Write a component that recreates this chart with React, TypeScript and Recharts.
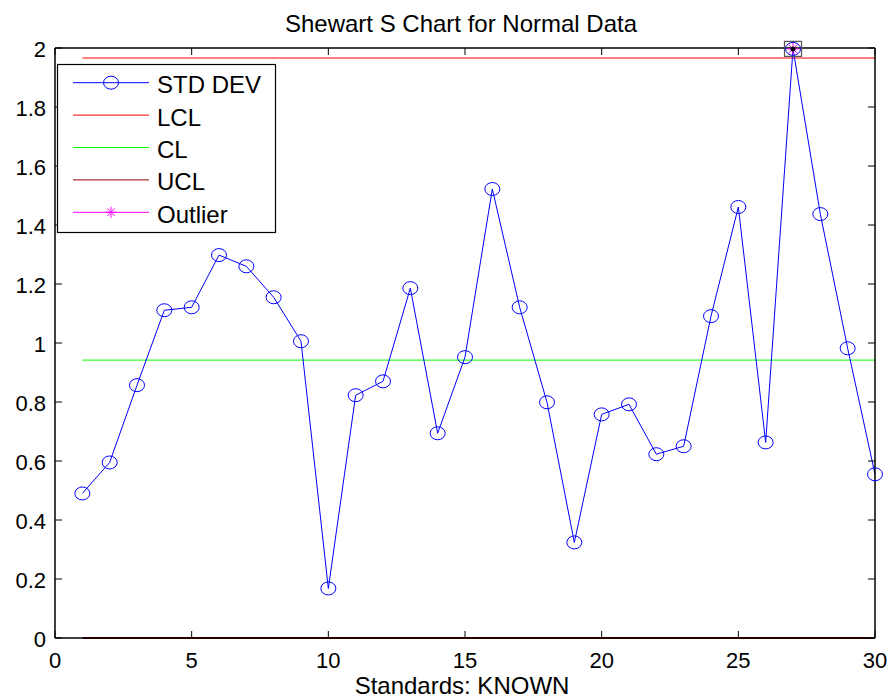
import React from 'react';
import { LineChart, Line, XAxis, YAxis } from 'recharts';

// ---- data ----
const sampleNumbers = [1, 2, 3, 4, 5, 6, 7, 8, 9, 10, 11, 12, 13, 14, 15, 16, 17, 18, 19, 20, 21, 22, 23, 24, 25, 26, 27, 28, 29, 30];
const stdDevValues = [
  0.49, 0.595, 0.857, 1.111, 1.121, 1.298, 1.26, 1.155, 1.006, 0.168,
  0.823, 0.87, 1.186, 0.694, 0.952, 1.522, 1.121, 0.799, 0.324, 0.758,
  0.792, 0.623, 0.65, 1.091, 1.461, 0.663, 1.997, 1.437, 0.982, 0.555,
];
const outlierSamples = [27];
const outlierValues = [1.997];
const lclValue = 1.966;
const clValue = 0.942;
const uclValue = 0;
const xTicks = [0, 5, 10, 15, 20, 25, 30];
const yTicks = [0, 0.2, 0.4, 0.6, 0.8, 1, 1.2, 1.4, 1.6, 1.8, 2];
const legendLabels = ['STD DEV', 'LCL', 'CL', 'UCL', 'Outlier'];
const chartTitle = 'Shewart S Chart for Normal Data';
const xAxisTitle = 'Standards: KNOWN';

// ---- derived tables ----
const stdData = sampleNumbers.map((x, i) => ({ x, y: stdDevValues[i] }));
const outlierData = outlierSamples.map((x, i) => ({ x, y: outlierValues[i] }));
const limitData = [sampleNumbers[0], sampleNumbers[sampleNumbers.length - 1]].map((x) => ({
  x,
  lcl: lclValue,
  cl: clValue,
  ucl: uclValue,
}));

// ---- style ----
const FONT = '"Liberation Sans", Arial, Helvetica, sans-serif';
const BLUE = '#0000ff';
const RED = '#ff0000';
const DARKRED = '#990000';
const GREEN = '#00ff00';
const MAGENTA = '#ff00ff';
const W = 891;
const H = 700;
const MARGIN = { top: 47, right: 15, left: 0, bottom: 0 };
const Y_AXIS_W = 55;
const X_AXIS_H = 62;
const TICK_LEN = 7;

const EllipseDot = (props: any) => {
  const { cx, cy, index } = props;
  if (cx == null || cy == null) return <g key={index} />;
  return <ellipse key={index} cx={cx} cy={cy} rx={7.5} ry={6.5} fill="none" stroke={BLUE} strokeWidth={1} />;
};

const Asterisk = ({ cx, cy, r }: { cx: number; cy: number; r: number }) => (
  <g stroke={MAGENTA} strokeWidth={1}>
    <line x1={cx - r} y1={cy} x2={cx + r} y2={cy} />
    <line x1={cx} y1={cy - r} x2={cx} y2={cy + r} />
    <line x1={cx - r * 0.7} y1={cy - r * 0.7} x2={cx + r * 0.7} y2={cy + r * 0.7} />
    <line x1={cx - r * 0.7} y1={cy + r * 0.7} x2={cx + r * 0.7} y2={cy - r * 0.7} />
  </g>
);

const OutlierDot = (props: any) => {
  const { cx, cy, index } = props;
  if (cx == null || cy == null) return <g key={index} />;
  return (
    <g key={index}>
      <rect x={cx - 8.5} y={cy - 7.5} width={17} height={15} fill="none" stroke="#555" strokeWidth={1.2} />
      <Asterisk cx={cx} cy={cy} r={6} />
      <circle cx={cx} cy={cy} r={2.5} fill="#000" />
    </g>
  );
};

const BottomTick = (props: any) => {
  const { x, y, payload } = props;
  return (
    <g>
      <line x1={x} y1={y} x2={x} y2={y - TICK_LEN} stroke="#000" strokeWidth={1} />
      <text x={x} y={y + 30} textAnchor="middle" fontSize={22} fontFamily={FONT} fill="#000">
        {String(payload.value)}
      </text>
    </g>
  );
};

const TopTick = (props: any) => {
  const { x, y } = props;
  return <line x1={x} y1={y} x2={x} y2={y + TICK_LEN} stroke="#000" strokeWidth={1} />;
};

const LeftTick = (props: any) => {
  const { x, y, payload } = props;
  return (
    <g>
      <line x1={x} y1={y} x2={x + TICK_LEN} y2={y} stroke="#000" strokeWidth={1} />
      <text x={x - 9} y={y + 8.5} textAnchor="end" fontSize={22} fontFamily={FONT} fill="#000">
        {String(payload.value)}
      </text>
    </g>
  );
};

const RightTick = (props: any) => {
  const { x, y } = props;
  return <line x1={x} y1={y} x2={x - TICK_LEN} y2={y} stroke="#000" strokeWidth={1} />;
};

const legendColors = [BLUE, RED, GREEN, DARKRED, MAGENTA];

const LegendBox = () => (
  <svg width={221} height={171} style={{ position: 'absolute', left: 56, top: 63 }}>
    <rect x={1.5} y={1.5} width={218} height={168} fill="#fff" stroke="#000" strokeWidth={1.2} />
    {legendLabels.map((label, i) => {
      const ry = 19.7 + i * 32.4;
      return (
        <g key={label}>
          <line x1={17} y1={ry} x2={93} y2={ry} stroke={legendColors[i]} strokeWidth={1} />
          {i === 0 && <ellipse cx={55} cy={ry} rx={7.5} ry={6.5} fill="none" stroke={BLUE} />}
          {i === 4 && <Asterisk cx={55} cy={ry} r={5.5} />}
          <text x={101} y={ry + 10.5} fontSize={24} fontFamily={FONT} fill="#000">
            {label}
          </text>
        </g>
      );
    })}
  </svg>
);

const axisLineStyle = { stroke: '#000', strokeWidth: 1.5 };

export default function App() {
  return (
    <div style={{ position: 'fixed', left: 0, top: 0, width: W, height: H, background: '#fff', fontFamily: FONT }}>
      <LineChart width={W} height={H} margin={MARGIN}>
        <XAxis
          xAxisId="bottom"
          type="number"
          dataKey="x"
          domain={[0, 30]}
          ticks={xTicks}
          interval={0}
          height={X_AXIS_H}
          tickSize={0}
          tickMargin={0}
          tickLine={false}
          axisLine={axisLineStyle}
          tick={<BottomTick />}
        />
        <XAxis
          xAxisId="top"
          orientation="top"
          type="number"
          dataKey="x"
          domain={[0, 30]}
          ticks={xTicks}
          interval={0}
          height={1}
          tickSize={0}
          tickMargin={0}
          tickLine={false}
          axisLine={axisLineStyle}
          tick={<TopTick />}
        />
        <YAxis
          yAxisId="left"
          type="number"
          domain={[0, 2]}
          ticks={yTicks}
          interval={0}
          width={Y_AXIS_W}
          tickSize={0}
          tickMargin={0}
          tickLine={false}
          axisLine={axisLineStyle}
          tick={<LeftTick />}
        />
        <YAxis
          yAxisId="right"
          orientation="right"
          type="number"
          domain={[0, 2]}
          ticks={yTicks}
          interval={0}
          width={1}
          tickSize={0}
          tickMargin={0}
          tickLine={false}
          axisLine={axisLineStyle}
          tick={<RightTick />}
        />
        <Line
          xAxisId="bottom"
          yAxisId="left"
          data={limitData}
          dataKey="lcl"
          stroke={RED}
          strokeWidth={1}
          dot={false}
          activeDot={false}
          isAnimationActive={false}
        />
        <Line
          xAxisId="top"
          yAxisId="right"
          data={limitData}
          dataKey="cl"
          stroke={GREEN}
          strokeWidth={1}
          dot={false}
          activeDot={false}
          isAnimationActive={false}
        />
        <Line
          xAxisId="bottom"
          yAxisId="left"
          data={limitData}
          dataKey="ucl"
          stroke={DARKRED}
          strokeWidth={2}
          dot={false}
          activeDot={false}
          isAnimationActive={false}
        />
        <Line
          xAxisId="bottom"
          yAxisId="left"
          data={stdData}
          dataKey="y"
          stroke={BLUE}
          strokeWidth={1}
          dot={<EllipseDot />}
          activeDot={false}
          isAnimationActive={false}
        />
        <Line
          xAxisId="bottom"
          yAxisId="left"
          data={outlierData}
          dataKey="y"
          stroke={MAGENTA}
          strokeWidth={1}
          dot={<OutlierDot />}
          activeDot={false}
          isAnimationActive={false}
        />
      </LineChart>
      <svg width={W} height={H} style={{ position: 'absolute', left: 0, top: 0, pointerEvents: 'none' }}>
        <text x={461} y={31.5} textAnchor="middle" fontSize={24} fontFamily={FONT} fill="#000">
          {chartTitle}
        </text>
        <text x={462} y={694} textAnchor="middle" fontSize={24} fontFamily={FONT} fill="#000">
          {xAxisTitle}
        </text>
      </svg>
      <LegendBox />
    </div>
  );
}
